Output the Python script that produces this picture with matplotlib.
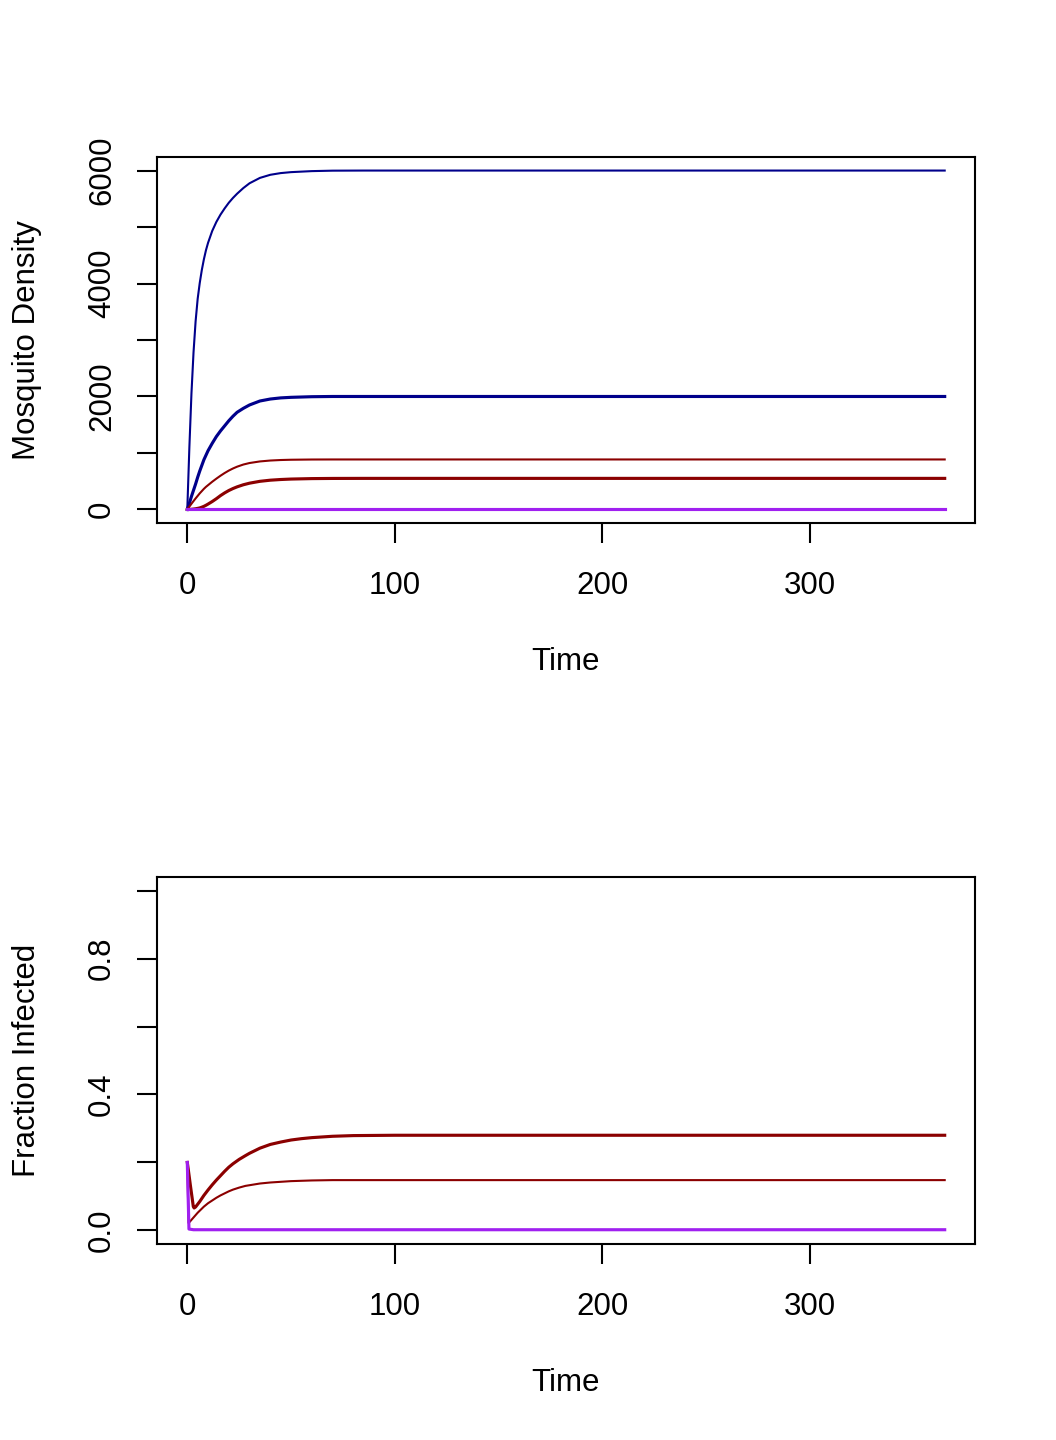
import numpy as np
import matplotlib
matplotlib.use("Agg")
import matplotlib.pyplot as plt

plt.rcParams['font.family'] = ['Liberation Sans', 'DejaVu Sans']
plt.rcParams['font.size'] = 15

# colours as in R: darkblue, darkred, purple
dblue = '#00008B'
dred = '#8B0000'
purple = '#A020F0'

# top panel: mosquito density
t_top = [0, 1, 2, 3, 4, 5, 6, 7, 8, 9, 10, 12, 14, 16, 18, 20, 22, 24, 27, 30,
         35, 40, 45, 50, 60, 70, 85, 100, 365]
dens_blue_hi = [0, 1100, 2050, 2780, 3330, 3730, 4010, 4240, 4430, 4590, 4720, 4930, 5090, 5220, 5330, 5430, 5515, 5590, 5690, 5775,
                5870, 5925, 5955, 5972, 5990, 5998, 6000, 6000, 6000]
dens_blue_lo = [0, 110, 230, 340, 450, 570, 680, 780, 880, 960, 1040, 1170, 1290, 1390, 1480, 1570, 1650, 1720, 1790, 1850,
                1920, 1955, 1975, 1985, 1996, 2000, 2000, 2000, 2000]
dens_red_hi = [0, 50, 100, 148, 195, 240, 285, 325, 365, 400, 430, 490, 545, 597, 645, 688, 725, 757, 795, 822,
               850, 866, 875, 880, 884, 885, 885, 885, 885]
dens_red_lo = [0, 1, 3, 7, 12, 19, 27, 40, 55, 74, 95, 140, 190, 245, 293, 335, 370, 400, 437, 465,
               498, 518, 530, 538, 546, 549, 550, 550, 550]
t_flat = [0, 365]
dens_purple = [0, 0]

# bottom panel: fraction infected
t_bot = [0, 0.5, 1, 1.5, 2, 2.5, 2.9, 3.3, 4, 5, 6, 7, 8, 9, 10, 12, 14, 16, 18, 20,
         22, 25, 28, 30, 35, 40, 45, 50, 55, 60, 70, 80, 100, 365]
inf_red_hi = [0.2, 0.178, 0.155, 0.132, 0.11, 0.088, 0.07, 0.066, 0.069, 0.077, 0.085, 0.094, 0.103, 0.111, 0.119, 0.134, 0.148, 0.161, 0.174, 0.186,
              0.196, 0.209, 0.22, 0.227, 0.242, 0.253, 0.26, 0.266, 0.27, 0.273, 0.277, 0.279, 0.28, 0.28]
t_bot2 = [0, 0.6, 1, 2, 3, 4, 5, 6, 7, 8, 9, 10, 12, 14, 16, 18, 20, 22, 25, 28,
          30, 35, 40, 45, 50, 60, 70, 100, 365]
inf_red_lo = [0.2, 0.022, 0.024, 0.031, 0.038, 0.045, 0.052, 0.058, 0.064, 0.07, 0.075, 0.08, 0.088, 0.096, 0.103, 0.109, 0.115, 0.12, 0.126, 0.131,
              0.133, 0.138, 0.141, 0.143, 0.145, 0.147, 0.148, 0.148, 0.148]
t_purp = [0, 0.8, 3, 365]
inf_purple = [0.2, 0.004, 0.002, 0.002]

fig = plt.figure(figsize=(7.04, 9.6), dpi=150)
W, H = 1056, 1440

def make_axes(top_px, bot_px):
    ax = fig.add_axes([157 / W, 1 - bot_px / H, (975 - 157) / W, (bot_px - top_px) / H])
    for s in ax.spines.values():
        s.set_linewidth(1.0)
    ax.tick_params(length=9.6, width=1.0, pad=13.5)
    ax.tick_params(axis='y', labelrotation=90, pad=9.5)
    ax.set_xlim(-14.6, 379.6)
    ax.set_xticks([0, 100, 200, 300])
    return ax

ax1 = make_axes(157, 523)
ax1.plot(t_top, dens_blue_hi, color=dblue, lw=1.0)
ax1.plot(t_top, dens_blue_lo, color=dblue, lw=1.5)
ax1.plot(t_top, dens_red_hi, color=dred, lw=1.0)
ax1.plot(t_top, dens_red_lo, color=dred, lw=1.5)
ax1.plot(t_flat, dens_purple, color=purple, lw=1.5)
ax1.set_ylim(-240, 6240)
ax1.set_yticks(np.arange(0, 6001, 1000))
ax1.set_yticklabels(['0', '', '2000', '', '4000', '', '6000'], va='center')
ax1.set_xlabel('Time')
ax1.set_ylabel('Mosquito Density')
ax1.xaxis.set_label_coords(0.5, -0.339)
ax1.yaxis.set_label_coords(-0.1406, 0.5)

ax2 = make_axes(877, 1244)
ax2.plot(t_bot, inf_red_hi, color=dred, lw=1.5)
ax2.plot(t_bot2, inf_red_lo, color=dred, lw=1.0)
ax2.plot(t_purp, inf_purple, color=purple, lw=1.5)
ax2.set_ylim(-0.04, 1.04)
ax2.set_yticks([0, 0.2, 0.4, 0.6, 0.8, 1.0])
ax2.set_yticklabels(['0.0', '', '0.4', '', '0.8', ''], va='center')
ax2.set_xlabel('Time')
ax2.set_ylabel('Fraction Infected')
ax2.xaxis.set_label_coords(0.5, -0.339)
ax2.yaxis.set_label_coords(-0.1406, 0.5)

fig.savefig('out.png', dpi=150)
